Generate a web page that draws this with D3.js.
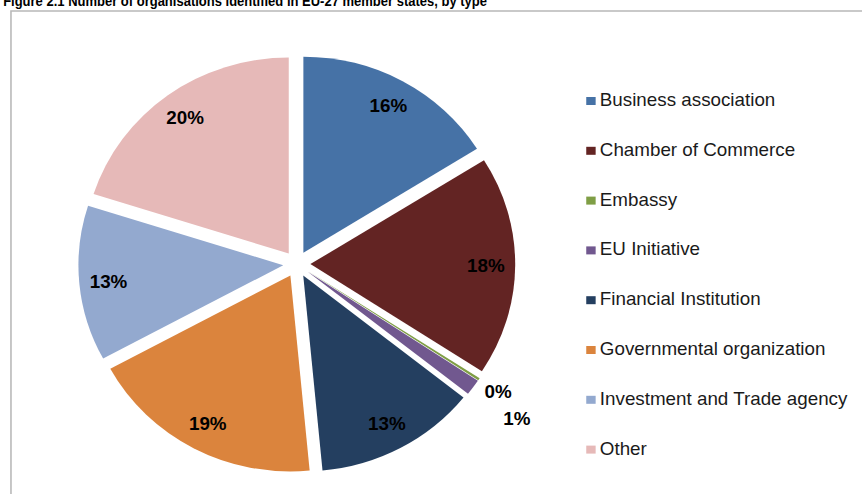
<!DOCTYPE html>
<html>
<head>
<meta charset="utf-8">
<script src="https://cdn.jsdelivr.net/npm/d3@7"></script>
<style>
  body { margin: 0; background: #fff; }
  text { font-family: "Liberation Sans", Arial, sans-serif; }
</style>
</head>
<body>
<div id="chart"></div>
<script>
// data (share of organisations, %)
var categories = [
    "Business association",
    "Chamber of Commerce",
    "Embassy",
    "EU Initiative",
    "Financial Institution",
    "Governmental organization",
    "Investment and Trade agency",
    "Other"
];
var shares = [16.1, 18.1, 0.2, 1.3, 12.8, 18.6, 12.8, 20.1];
var colors = ["#4672A6", "#632423", "#7F9E45", "#71588F", "#243F60", "#DB843D", "#93A9CF", "#E6B9B8"];
var title = "Figure 2.1 Number of organisations identified in EU-27 member states, by type";

var width = 862, height = 494;
var stretch = 1.045; // the source picture is a bit wider than tall

var cx = 284, cy = 264, radius = 196, explode = 13;

var svg = d3.select("#chart")
    .append("svg")
    .attr("width", width)
    .attr("height", height);

var g = svg.append("g")
    .attr("transform", "scale(" + stretch + ",1)");

// frame of the chart area (runs off the picture on right and bottom)
g.append("rect")
    .attr("x", 10.5)
    .attr("y", 11)
    .attr("width", 900)
    .attr("height", 600)
    .attr("fill", "none")
    .attr("stroke", "#b8b8b8")
    .attr("stroke-width", 1.5);

// title, its top is cut by the picture edge like in the source
g.append("text")
    .attr("x", 3)
    .attr("y", 5.5)
    .attr("font-size", 15)
    .attr("font-weight", "bold")
    .attr("textLength", 463)
    .attr("lengthAdjust", "spacingAndGlyphs")
    .attr("fill", "#000")
    .text(title);

var total = d3.sum(shares);
var pie = d3.pie().sort(null).value(function(d) { return d; });
var arc = d3.arc().innerRadius(0).outerRadius(radius);
var arcs = pie(shares);

function mid(d) { return (d.startAngle + d.endAngle) / 2; }

var pieG = g.append("g")
    .attr("transform", "translate(" + cx + "," + cy + ")");

var slices = pieG.selectAll("g.slice")
    .data(arcs)
    .enter()
    .append("g")
    .attr("class", "slice")
    .attr("transform", function(d) {
        var a = mid(d);
        return "translate(" + (Math.sin(a) * explode) + "," + (-Math.cos(a) * explode) + ")";
    });

slices.append("path")
    .attr("d", arc)
    .attr("fill", function(d, i) { return colors[i]; });

// labels: inside the slice, small slices get theirs outside, stacked
var outside = 0;
slices.append("text")
    .attr("transform", function(d) {
        var a = mid(d);
        var r;
        if (d.value / total < 0.03) {
            r = radius + 22 + outside * 30;
            outside++;
        } else {
            r = radius * 0.857;
        }
        return "translate(" + (Math.sin(a) * r) + "," + (-Math.cos(a) * r) + ")";
    })
    .attr("text-anchor", "middle")
    .attr("dy", "0.36em")
    .attr("font-size", 18)
    .attr("font-weight", "bold")
    .attr("fill", "#000")
    .text(function(d) { return Math.round(d.value / total * 100) + "%"; });

// legend
var legendY = d3.scalePoint()
    .domain(categories)
    .range([106, 454.6]);

var legend = g.append("g")
    .selectAll("g")
    .data(categories)
    .enter()
    .append("g")
    .attr("transform", function(d) { return "translate(561," + legendY(d) + ")"; });

legend.append("rect")
    .attr("x", 0)
    .attr("y", -9)
    .attr("width", 9)
    .attr("height", 8)
    .attr("fill", function(d, i) { return colors[i]; });

legend.append("text")
    .attr("x", 13)
    .attr("y", 0)
    .attr("font-size", 18)
    .attr("fill", "#1a1a1a")
    .text(function(d) { return d; });
</script>
</body>
</html>
